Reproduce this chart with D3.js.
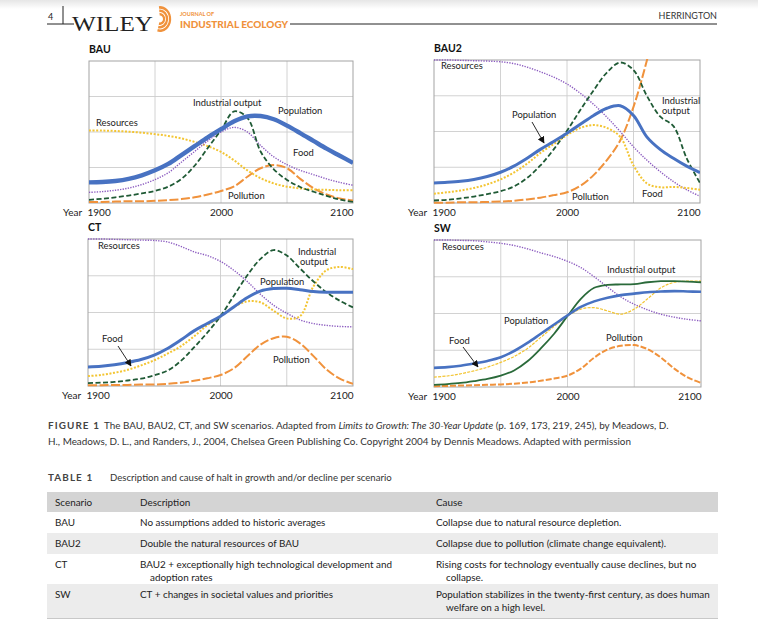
<!DOCTYPE html>
<html>
<head>
<meta charset="utf-8">
<script src="https://cdn.jsdelivr.net/npm/d3@7"></script>
<style>
    body { margin: 0; background: #fff; }
    svg { display: block; font-family: Lato, 'Open Sans', sans-serif; }
</style>
</head>
<body>
<div id="page"></div>
<script>
// ---- data (units = grid rows, 0..4) ----
const years = [1900, 1910, 1920, 1930, 1940, 1950, 1960, 1970, 1980, 1990, 2000,
    2010, 2020, 2030, 2040, 2050, 2060, 2070, 2080, 2090, 2100];
const tickYears = [1900, 2000, 2100];
const scenarios = ['BAU', 'BAU2', 'CT', 'SW'];

const bauPopulation = [0.58, 0.59, 0.62, 0.68, 0.78, 0.92, 1.1, 1.35, 1.6, 1.85, 2.08, 2.3, 2.44, 2.45, 2.36, 2.18, 1.97, 1.75, 1.53, 1.33, 1.13];
const bauIndustry = [0.09, 0.12, 0.16, 0.21, 0.27, 0.34, 0.46, 0.68, 1.05, 1.55, 2.05, 2.58, 2.4, 1.45, 0.95, 0.65, 0.45, 0.32, 0.2, 0.1, 0.03];
const bauFood = [0.3, 0.32, 0.36, 0.42, 0.52, 0.66, 0.85, 1.15, 1.45, 1.75, 2.0, 2.13, 2.0, 1.62, 1.3, 1.08, 0.92, 0.8, 0.68, 0.58, 0.5];
const bauResources = [2.04, 2.04, 2.03, 2.01, 1.98, 1.94, 1.89, 1.82, 1.72, 1.6, 1.44, 1.2, 0.92, 0.7, 0.55, 0.46, 0.41, 0.38, 0.37, 0.36, 0.36];
const bauPollution = [0.03, 0.03, 0.04, 0.05, 0.05, 0.06, 0.08, 0.11, 0.16, 0.24, 0.34, 0.47, 0.74, 0.98, 1.07, 0.98, 0.68, 0.42, 0.24, 0.13, 0.07];

const bau2Population = [0.56, 0.58, 0.61, 0.66, 0.74, 0.86, 1.03, 1.25, 1.5, 1.72, 1.95, 2.2, 2.45, 2.65, 2.72, 2.45, 1.85, 1.5, 1.25, 1.03, 0.85];
const bau2Industry = [0.07, 0.09, 0.13, 0.18, 0.25, 0.33, 0.46, 0.7, 1.05, 1.5, 2.02, 2.6, 3.15, 3.65, 3.93, 3.72, 3.0, 2.42, 2.15, 1.25, 0.56];
const bau2Food = [0.26, 0.3, 0.35, 0.42, 0.52, 0.66, 0.85, 1.1, 1.4, 1.65, 1.9, 2.1, 2.18, 2.1, 1.85, 1.05, 0.55, 0.44, 0.45, 0.42, 0.37];
const bau2Resources = [4.0, 4.0, 3.99, 3.98, 3.97, 3.95, 3.9, 3.8, 3.67, 3.52, 3.33, 3.07, 2.76, 2.4, 2.0, 1.57, 1.2, 0.88, 0.6, 0.37, 0.19];
const bau2Pollution = [0.01, 0.01, 0.02, 0.02, 0.03, 0.04, 0.06, 0.1, 0.15, 0.22, 0.3, 0.48, 0.78, 1.2, 1.75, 2.69, 3.98, 5.5, 7.0, 8.5, 10.0];

const ctPopulation = [0.52, 0.54, 0.58, 0.64, 0.72, 0.84, 1.02, 1.25, 1.5, 1.7, 1.9, 2.15, 2.4, 2.58, 2.65, 2.66, 2.62, 2.57, 2.55, 2.55, 2.55];
const ctIndustry = [0.08, 0.09, 0.11, 0.15, 0.2, 0.29, 0.42, 0.68, 1.05, 1.45, 1.9, 2.45, 3.0, 3.45, 3.7, 3.55, 3.2, 2.85, 2.55, 2.32, 2.14];
const ctFood = [0.27, 0.3, 0.36, 0.44, 0.56, 0.7, 0.88, 1.08, 1.35, 1.65, 1.89, 2.15, 2.3, 2.28, 2.05, 1.84, 1.9, 2.7, 3.15, 3.24, 3.18];
const ctResources = [4.0, 4.0, 3.99, 3.98, 3.97, 3.96, 3.92, 3.8, 3.65, 3.55, 3.39, 3.15, 2.85, 2.5, 2.2, 1.98, 1.8, 1.7, 1.65, 1.62, 1.61];
const ctPollution = [0.02, 0.02, 0.03, 0.03, 0.04, 0.04, 0.06, 0.09, 0.14, 0.21, 0.3, 0.48, 0.8, 1.12, 1.3, 1.34, 1.16, 0.82, 0.45, 0.2, 0.06];

const swPopulation = [0.52, 0.54, 0.58, 0.64, 0.71, 0.81, 0.98, 1.2, 1.45, 1.7, 1.95, 2.18, 2.33, 2.43, 2.5, 2.54, 2.58, 2.6, 2.61, 2.6, 2.59];
const swIndustry = [0.06, 0.08, 0.11, 0.16, 0.22, 0.31, 0.45, 0.7, 1.05, 1.45, 1.93, 2.4, 2.7, 2.78, 2.79, 2.8, 2.85, 2.88, 2.88, 2.87, 2.85];
const swFood = [0.27, 0.3, 0.36, 0.44, 0.54, 0.67, 0.83, 1.05, 1.35, 1.65, 1.93, 2.12, 2.16, 2.07, 1.98, 2.12, 2.4, 2.7, 2.85, 2.88, 2.88];
const swResources = [4.0, 4.0, 3.99, 3.98, 3.95, 3.91, 3.85, 3.76, 3.65, 3.55, 3.42, 3.25, 3.0, 2.72, 2.45, 2.25, 2.1, 1.98, 1.9, 1.84, 1.8];
const swPollution = [0.02, 0.03, 0.04, 0.05, 0.06, 0.07, 0.09, 0.12, 0.17, 0.23, 0.31, 0.5, 0.8, 1.02, 1.12, 1.14, 1.03, 0.8, 0.5, 0.26, 0.11];

const tableHead = ['Scenario', 'Description', 'Cause'];
const tableScenario = ['BAU', 'BAU2', 'CT', 'SW'];
const tableDescription = [
    ['No assumptions added to historic averages'],
    ['Double the natural resources of BAU'],
    ['BAU2 + exceptionally high technological development and', 'adoption rates'],
    ['CT + changes in societal values and priorities']
];
const tableCause = [
    ['Collapse due to natural resource depletion.'],
    ['Collapse due to pollution (climate change equivalent).'],
    ['Rising costs for technology eventually cause declines, but no', 'collapse.'],
    ['Population stabilizes in the twenty-first century, as does human', 'welfare on a high level.']
];

const series = {
    BAU: {pollution: bauPollution, resources: bauResources, food: bauFood, industry: bauIndustry, population: bauPopulation},
    BAU2: {pollution: bau2Pollution, resources: bau2Resources, food: bau2Food, industry: bau2Industry, population: bau2Population},
    CT: {pollution: ctPollution, resources: ctResources, food: ctFood, industry: ctIndustry, population: ctPopulation},
    SW: {pollution: swPollution, resources: swResources, food: swFood, industry: swIndustry, population: swPopulation}
};

// ---- look ----
const COLORS = {blue: '#4872c2', green: '#1f5a35', orange: '#f0923c', yellow: '#f3c533', purple: '#8c5cc0'};
const yellowDots = {color: COLORS.yellow, width: 2, dash: '2,1.6'};
const purpleDots = {color: COLORS.purple, width: 1.4, dash: '1.3,1.3'};

const panelLayout = {
    BAU: {left: 89, right: 353, top: 61, bottom: 203},
    BAU2: {left: 434, right: 700, top: 60, bottom: 203},
    CT: {left: 88, right: 353, top: 239, bottom: 386},
    SW: {left: 434, right: 701, top: 240, bottom: 387}
};

const panelStyle = {
    BAU: {
        pollution: {color: COLORS.orange, width: 2, dash: '9,2.5'},
        resources: yellowDots,
        food: purpleDots,
        industry: {color: COLORS.green, width: 1.8, dash: '5,2.5'},
        population: {color: COLORS.blue, width: 4.4}
    },
    BAU2: {
        pollution: {color: COLORS.orange, width: 2, dash: '9,2.5'},
        resources: purpleDots,
        food: yellowDots,
        industry: {color: COLORS.green, width: 1.8, dash: '5,2.5'},
        population: {color: COLORS.blue, width: 3}
    },
    CT: {
        pollution: {color: COLORS.orange, width: 2, dash: '9,2.5'},
        resources: purpleDots,
        food: yellowDots,
        industry: {color: COLORS.green, width: 1.8, dash: '5,2.5'},
        population: {color: COLORS.blue, width: 3}
    },
    SW: {
        pollution: {color: COLORS.orange, width: 2, dash: '6,2'},
        resources: purpleDots,
        food: {color: COLORS.yellow, width: 1.2, dash: '3,1.2'},
        industry: {color: '#2a6a3a', width: 1.8},
        population: {color: COLORS.blue, width: 2.6}
    }
};

const panelNotes = {
    BAU: [
        {text: 'Industrial output', x: 193, y: 106},
        {text: 'Population', x: 278, y: 114},
        {text: 'Resources', x: 96, y: 126},
        {text: 'Food', x: 293, y: 156},
        {text: 'Pollution', x: 228, y: 199}
    ],
    BAU2: [
        {text: 'Resources', x: 441, y: 69},
        {text: 'Industrial', x: 662, y: 104},
        {text: 'output', x: 662, y: 114},
        {text: 'Population', x: 512, y: 118},
        {text: 'Pollution', x: 572, y: 200},
        {text: 'Food', x: 642, y: 197}
    ],
    CT: [
        {text: 'Resources', x: 98, y: 249},
        {text: 'Industrial', x: 298, y: 255},
        {text: 'output', x: 300, y: 265},
        {text: 'Population', x: 260, y: 285},
        {text: 'Food', x: 102, y: 342},
        {text: 'Pollution', x: 273, y: 363}
    ],
    SW: [
        {text: 'Resources', x: 442, y: 250},
        {text: 'Industrial output', x: 607, y: 273},
        {text: 'Population', x: 504, y: 324},
        {text: 'Food', x: 449, y: 344},
        {text: 'Pollution', x: 606, y: 341}
    ]
};

const panelArrows = {
    BAU2: [[532, 122], [544, 143]],
    CT: [[118, 346], [131, 366]],
    SW: [[463, 347], [478, 367]]
};

function page() {
    page.svg = d3.select('#page').append('svg')
        .attr('width', 758)
        .attr('height', 641);
    page.defs();
    page.header();
    scenarios.forEach(page.panel);
    page.caption();
    page.table();
}

page.defs = function () {
    let defs = page.svg.append('defs');
    let shade = defs.append('linearGradient').attr('id', 'topShade')
        .attr('x1', 0).attr('x2', 0).attr('y1', 0).attr('y2', 1);
    shade.append('stop').attr('offset', 0).attr('stop-color', '#e6e6e6');
    shade.append('stop').attr('offset', 1).attr('stop-color', '#ffffff');
    defs.append('marker')
        .attr('id', 'arrow')
        .attr('viewBox', '0 0 10 10')
        .attr('refX', 9).attr('refY', 5)
        .attr('markerWidth', 7).attr('markerHeight', 7)
        .attr('markerUnits', 'userSpaceOnUse')
        .attr('orient', 'auto')
        .append('path')
        .attr('d', 'M0,0L10,5L0,10z')
        .attr('fill', '#111');
    page.svg.append('rect').attr('width', 758).attr('height', 9).attr('fill', 'url(#topShade)');
};

page.header = function () {
    let head = page.svg.append('g');
    head.append('text').attr('x', 48).attr('y', 20)
        .attr('font-size', 9).attr('fill', '#222').text('4');
    head.append('line').attr('x1', 63).attr('x2', 63).attr('y1', 6).attr('y2', 24)
        .attr('stroke', '#222').attr('stroke-width', 1);
    head.append('line').attr('x1', 47).attr('x2', 74).attr('y1', 24).attr('y2', 24)
        .attr('stroke', '#222').attr('stroke-width', 1);
    head.append('line').attr('x1', 290).attr('x2', 717).attr('y1', 24).attr('y2', 24)
        .attr('stroke', '#222').attr('stroke-width', 1);
    head.append('text').attr('x', 72).attr('y', 31)
        .attr('font-family', "'Liberation Serif', 'DejaVu Serif', serif")
        .attr('font-size', 20).attr('fill', '#222')
        .attr('textLength', 81).attr('lengthAdjust', 'spacingAndGlyphs')
        .text('WILEY');

    // journal swoosh
    let arc = d3.arc();
    let swoosh = head.append('g').attr('transform', 'translate(160,19) scale(1,1.15)');
    [3, 6, 9].forEach(function (r) {
        swoosh.append('path')
            .attr('d', arc({innerRadius: r, outerRadius: r + 2.2, startAngle: -0.1, endAngle: Math.PI * 1.08}))
            .attr('fill', COLORS.orange);
    });
    head.append('text').attr('x', 180).attr('y', 16)
        .attr('font-size', 5.5).attr('font-weight', 700).attr('fill', COLORS.orange)
        .text('JOURNAL OF');
    head.append('text').attr('x', 180).attr('y', 28)
        .attr('font-size', 9.5).attr('font-weight', 900).attr('fill', COLORS.orange)
        .attr('textLength', 108).attr('lengthAdjust', 'spacingAndGlyphs')
        .text('INDUSTRIAL ECOLOGY');
    head.append('text').attr('x', 717).attr('y', 19)
        .attr('text-anchor', 'end').attr('font-size', 9).attr('fill', '#333')
        .text('HERRINGTON');
};

page.panel = function (key) {
    let L = panelLayout[key];
    let x = d3.scaleLinear().domain([years[0], years[years.length - 1]]).range([L.left, L.right]);
    let y = d3.scaleLinear().domain([0, 4]).range([L.bottom, L.top]);
    let g = page.svg.append('g');

    g.append('text').attr('x', L.left).attr('y', L.top - 8)
        .attr('font-size', 10.5).attr('font-weight', 700).attr('fill', '#111')
        .text(key);

    // grid
    g.selectAll('.vgrid').data(x.ticks(4).slice(1, -1)).enter().append('line')
        .attr('x1', d => x(d)).attr('x2', d => x(d))
        .attr('y1', L.top).attr('y2', L.bottom)
        .attr('stroke', '#cdcdcd').attr('stroke-width', 0.9);
    g.selectAll('.hgrid').data(y.ticks(4).slice(1, -1)).enter().append('line')
        .attr('x1', L.left).attr('x2', L.right)
        .attr('y1', d => y(d)).attr('y2', d => y(d))
        .attr('stroke', '#cdcdcd').attr('stroke-width', 0.9);
    g.append('rect')
        .attr('x', L.left).attr('y', L.top)
        .attr('width', L.right - L.left).attr('height', L.bottom - L.top)
        .attr('fill', 'none').attr('stroke', '#a3a3a3').attr('stroke-width', 1);

    // curves
    let clipId = 'clip-' + key;
    g.append('clipPath').attr('id', clipId).append('rect')
        .attr('x', L.left).attr('y', L.top - 1)
        .attr('width', L.right - L.left).attr('height', L.bottom - L.top + 2);
    let line = d3.line()
        .x((d, i) => x(years[i]))
        .y(d => y(d))
        .curve(d3.curveCatmullRom.alpha(0.5));
    let lines = g.append('g').attr('clip-path', `url(#${clipId})`);
    ['pollution', 'resources', 'food', 'industry', 'population'].forEach(function (name) {
        let st = panelStyle[key][name];
        lines.append('path')
            .datum(series[key][name])
            .attr('d', line)
            .attr('fill', 'none')
            .attr('stroke', st.color)
            .attr('stroke-width', st.width)
            .attr('stroke-dasharray', st.dash || null)
            .attr('stroke-linejoin', 'round');
    });

    // axis
    let axis = d3.axisBottom(x).tickValues(tickYears).tickFormat(d3.format('d')).tickSize(0).tickPadding(6);
    let ga = g.append('g').attr('transform', `translate(0,${L.bottom})`).call(axis)
        .attr('font-family', null).attr('font-size', 10);
    ga.select('.domain').remove();
    ga.selectAll('text')
        .attr('fill', '#222')
        .attr('text-anchor', (d, i) => i === 0 ? 'start' : (i === tickYears.length - 1 ? 'end' : 'middle'))
        .attr('dx', (d, i) => i === 0 ? -2 : 0);
    g.append('text').attr('x', L.left - 26).attr('y', L.bottom + 6).attr('dy', '0.71em')
        .attr('font-size', 10).attr('fill', '#222').text('Year');

    // labels
    g.selectAll('.note').data(panelNotes[key]).enter().append('text')
        .attr('x', d => d.x).attr('y', d => d.y)
        .attr('font-size', 9.4).attr('fill', '#222')
        .text(d => d.text);
    if (panelArrows[key]) {
        let a = panelArrows[key];
        g.append('line')
            .attr('x1', a[0][0]).attr('y1', a[0][1])
            .attr('x2', a[1][0]).attr('y2', a[1][1])
            .attr('stroke', '#111').attr('stroke-width', 0.9)
            .attr('marker-end', 'url(#arrow)');
    }
};

page.caption = function () {
    let cap = page.svg.append('g').attr('font-size', 9.9).attr('fill', '#333');
    cap.append('text').attr('x', 48).attr('y', 429)
        .attr('font-weight', 700).attr('letter-spacing', 1.1).attr('fill', '#444')
        .text('FIGURE 1');
    let t = cap.append('text').attr('x', 104).attr('y', 429);
    t.append('tspan').text('The BAU, BAU2, CT, and SW scenarios. Adapted from ');
    t.append('tspan').attr('font-style', 'italic').text('Limits to Growth: The 30-Year Update');
    t.append('tspan').text(' (p. 169, 173, 219, 245), by Meadows, D.');
    cap.append('text').attr('x', 48).attr('y', 445)
        .text('H., Meadows, D. L., and Randers, J., 2004, Chelsea Green Publishing Co. Copyright 2004 by Dennis Meadows. Adapted with permission');

    cap.append('text').attr('x', 48).attr('y', 481)
        .attr('font-weight', 700).attr('letter-spacing', 1.1).attr('fill', '#444')
        .text('TABLE 1');
    cap.append('text').attr('x', 110).attr('y', 481).attr('font-size', 9.6)
        .text('Description and cause of halt in growth and/or decline per scenario');
};

page.table = function () {
    let tbl = page.svg.append('g').attr('font-size', 9.9).attr('fill', '#222');
    let left = 47, right = 718;
    let cols = [55, 140, 436];
    let rowTop = [512, 533, 554, 584];
    let rowBottom = [533, 554, 584, 618];

    tbl.append('rect').attr('x', left).attr('y', 492).attr('width', right - left).attr('height', 20)
        .attr('fill', '#d4d4d4');
    tableScenario.forEach(function (s, i) {
        if (i % 2 === 1) {
            tbl.append('rect').attr('x', left).attr('y', rowTop[i])
                .attr('width', right - left).attr('height', rowBottom[i] - rowTop[i])
                .attr('fill', '#ececec');
        }
    });
    tbl.append('line').attr('x1', left).attr('x2', right).attr('y1', 618.5).attr('y2', 618.5)
        .attr('stroke', '#c8c8c8');

    tableHead.forEach(function (h, i) {
        tbl.append('text').attr('x', cols[i]).attr('y', 506).text(h);
    });
    tableScenario.forEach(function (s, i) {
        let base = rowTop[i] + 14;
        tbl.append('text').attr('x', cols[0]).attr('y', base).text(s);
        [tableDescription[i], tableCause[i]].forEach(function (cell, c) {
            cell.forEach(function (lineText, k) {
                tbl.append('text')
                    .attr('x', cols[c + 1] + (k > 0 ? 10 : 0))
                    .attr('y', base + k * 13)
                    .text(lineText);
            });
        });
    });
};

page();
</script>
</body>
</html>
